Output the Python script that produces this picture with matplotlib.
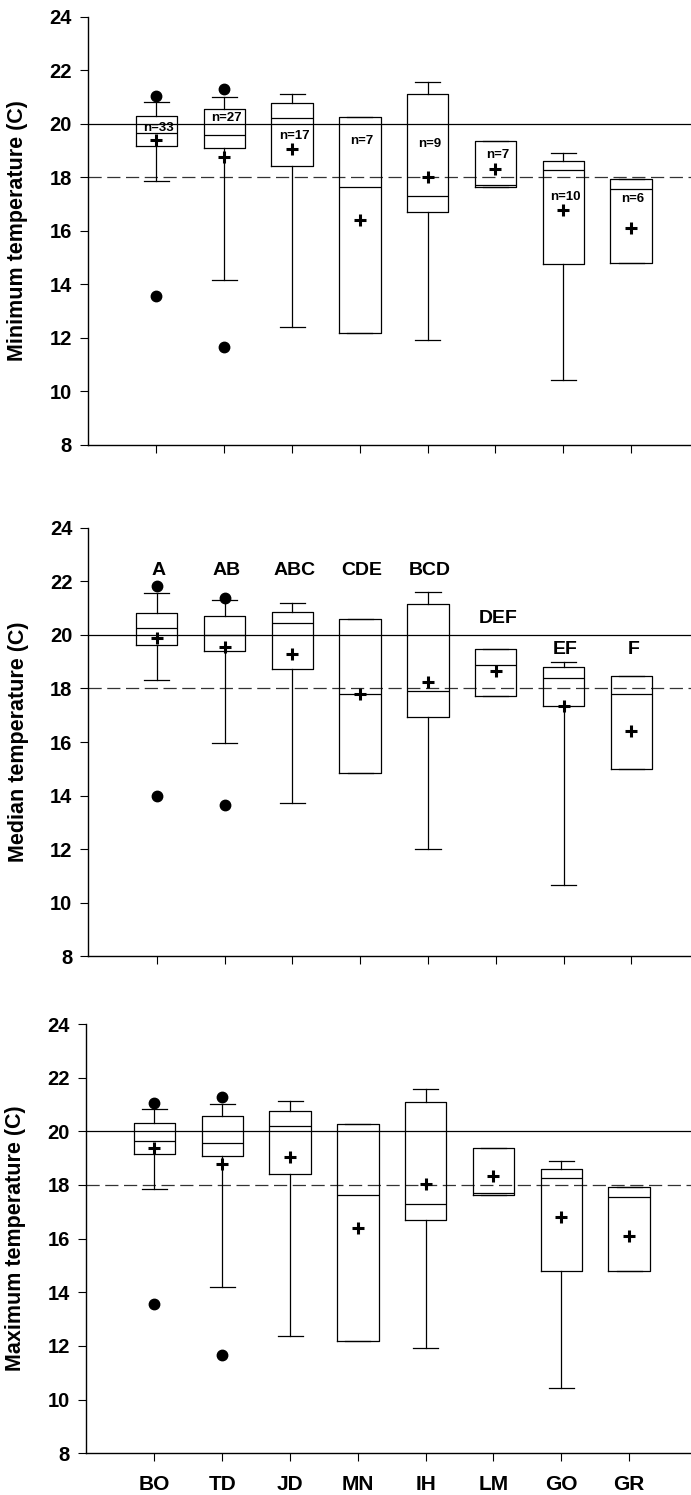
import matplotlib
matplotlib.use("Agg")
import matplotlib.pyplot as plt

plt.rcParams['font.family'] = ['Liberation Sans', 'DejaVu Sans']
plt.rcParams['font.weight'] = 'bold'
plt.rcParams['lines.scale_dashes'] = False

categories = ['BO', 'TD', 'JD', 'MN', 'IH', 'LM', 'GO', 'GR']

# Minimum temperature panel
min_q1 = [19.17, 19.09, 18.42, 12.19, 16.70, 17.62, 14.78, 14.79]
min_med = [19.65, 19.58, 20.20, 17.62, 17.29, 17.71, 18.27, 17.55]
min_q3 = [20.30, 20.57, 20.76, 20.26, 21.10, 19.36, 18.61, 17.93]
min_lo = [17.85, 14.18, 12.39, 12.19, 11.94, 17.62, 10.43, 14.79]
min_hi = [20.82, 21.00, 21.12, 20.26, 21.57, 19.36, 18.90, 17.93]
min_mean = [19.38, 18.77, 19.04, 16.39, 18.02, 18.32, 16.79, 16.09]
min_out = [[21.05, 13.56], [21.29, 11.66], [], [], [], [], [], []]
n_labels = ['n=33', 'n=27', 'n=17', 'n=7', 'n=9', 'n=7', 'n=10', 'n=6']
n_label_y = [19.83, 20.20, 19.55, 19.36, 19.23, 18.82, 17.25, 17.20]

# Median temperature panel
med_q1 = [19.61, 19.38, 18.74, 14.86, 16.95, 17.70, 17.36, 14.99]
med_med = [20.24, 20.00, 20.45, 17.81, 17.90, 18.89, 18.39, 17.78]
med_q3 = [20.82, 20.71, 20.86, 20.60, 21.17, 19.49, 18.80, 18.46]
med_lo = [18.32, 15.98, 13.71, 14.86, 11.99, 17.70, 10.66, 14.99]
med_hi = [21.58, 21.31, 21.18, 20.60, 21.61, 19.49, 18.99, 18.46]
med_mean = [19.90, 19.53, 19.29, 17.78, 18.23, 18.66, 17.36, 16.40]
med_out = [[21.81, 13.97], [21.37, 13.66], [], [], [], [], [], []]
letters = ['A', 'AB', 'ABC', 'CDE', 'BCD', 'DEF', 'EF', 'F']
letter_y = [22.42, 22.42, 22.42, 22.42, 22.42, 20.61, 19.46, 19.46]

# Maximum temperature panel
max_q1 = [19.17, 19.09, 18.42, 12.19, 16.70, 17.62, 14.78, 14.79]
max_med = [19.65, 19.58, 20.20, 17.62, 17.29, 17.71, 18.27, 17.55]
max_q3 = [20.30, 20.57, 20.76, 20.26, 21.10, 19.36, 18.61, 17.93]
max_lo = [17.85, 14.18, 12.39, 12.19, 11.94, 17.62, 10.43, 14.79]
max_hi = [20.82, 21.00, 21.12, 20.26, 21.57, 19.36, 18.90, 17.93]
max_mean = [19.38, 18.77, 19.04, 16.39, 18.02, 18.32, 16.79, 16.09]
max_out = [[21.05, 13.56], [21.29, 11.66], [], [], [], [], [], []]

yticks = [8, 10, 12, 14, 16, 18, 20, 22, 24]

W, H = 691, 1495
fig = plt.figure(figsize=(W / 100, H / 100), dpi=100)
unit = 67.8


def make_ax(left_px, top_px, bottom_px):
    return fig.add_axes([left_px / W, (H - bottom_px) / H,
                         9 * unit / W, (bottom_px - top_px) / H])


def draw(ax, q1, med, q3, lo, hi, mean, out, ylabel, show_xlabels):
    stats = []
    for i in range(len(categories)):
        stats.append(dict(q1=q1[i], med=med[i], q3=q3[i], whislo=lo[i],
                          whishi=hi[i], mean=mean[i], fliers=out[i],
                          label=categories[i]))
    lw = 0.9
    ax.axhline(20, color='black', lw=0.9, zorder=1)
    ax.axhline(18, color='#333333', lw=0.9, linestyle=(0, (9.5, 4)), zorder=1)
    ax.bxp(stats, positions=range(1, 9), widths=0.61, capwidths=0.37,
           showmeans=True, showfliers=True, patch_artist=False,
           boxprops=dict(color='black', lw=lw),
           whiskerprops=dict(color='black', lw=lw),
           capprops=dict(color='black', lw=lw),
           medianprops=dict(color='black', lw=lw),
           meanprops=dict(marker='+', markeredgecolor='black',
                          markersize=8, markeredgewidth=2.2),
           flierprops=dict(marker='o', markerfacecolor='black',
                           markeredgecolor='black', markersize=7.5))
    ax.set_xlim(-0.01, 8.99)
    ax.set_ylim(8, 24)
    ax.set_yticks(yticks)
    ax.set_xticks(range(1, 9))
    if show_xlabels:
        ax.set_xticklabels(categories, fontsize=15, fontweight='bold')
    else:
        ax.set_xticklabels([])
    for lab in ax.get_yticklabels():
        lab.set_fontweight('bold')
        lab.set_fontsize(14.5)
    ax.tick_params(direction='out', length=5.5, width=0.8, pad=6)
    ax.tick_params(axis='x', pad=10)
    for s in ['top', 'right']:
        ax.spines[s].set_visible(False)
    for s in ['left', 'bottom']:
        ax.spines[s].set_linewidth(1.0)
    ax.set_ylabel(ylabel, fontsize=15.5, fontweight='bold')
    ax.yaxis.set_label_coords(-0.098, 0.5)
    ax.patch.set_alpha(0)


ax1 = make_ax(88, 16.7, 445)
draw(ax1, min_q1, min_med, min_q3, min_lo, min_hi, min_mean, min_out,
     'Minimum temperature (C)', False)
for i, (t, y) in enumerate(zip(n_labels, n_label_y)):
    ax1.text(i + 1.03, y, t, ha='center', va='center', fontsize=9.5,
             fontweight='bold')

ax2 = make_ax(88.3, 527.7, 956.3)
draw(ax2, med_q1, med_med, med_q3, med_lo, med_hi, med_mean, med_out,
     'Median temperature (C)', False)
for i, (t, y) in enumerate(zip(letters, letter_y)):
    ax2.text(i + 1.03, y, t, ha='center', va='center', fontsize=14,
             fontweight='bold')

ax3 = make_ax(86, 1024, 1453.3)
draw(ax3, max_q1, max_med, max_q3, max_lo, max_hi, max_mean, max_out,
     'Maximum temperature (C)', True)

fig.savefig('out.png', dpi=100)
